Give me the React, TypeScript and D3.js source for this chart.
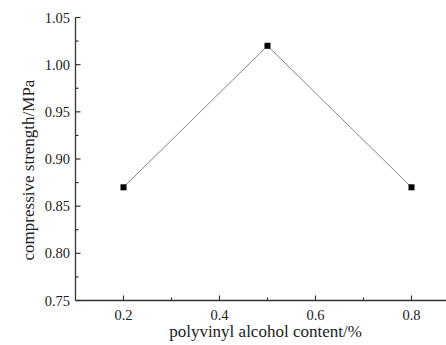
import React from "react";
import * as d3 from "d3";

const contents = [0.2, 0.5, 0.8];
const strengths = [0.87, 1.02, 0.87];
const xMajorTicks = [0.2, 0.4, 0.6, 0.8];
const xMinorTicks = [0.3, 0.5, 0.7];
const yMajorTicks = [0.75, 0.8, 0.85, 0.9, 0.95, 1.0, 1.05];
const yMinorTicks = [0.775, 0.825, 0.875, 0.925, 0.975, 1.025];

const W = 446;
const H = 345;
const FONT = "'Liberation Serif', 'Times New Roman', serif";

export default function App() {
  const x = d3.scaleLinear().domain([0.1, 0.9]).range([75.5, 459.5]);
  const y = d3.scaleLinear().domain([0.75, 1.05]).range([300.5, 17.5]);
  const line = d3
    .line<number>()
    .x((_, i) => x(contents[i]))
    .y((d) => y(d));
  const axisColor = "#333";

  return (
    <svg
      width={W}
      height={H}
      style={{ position: "absolute", left: 0, top: 0, background: "#fff" }}
    >
      {/* axes */}
      <line x1={x(0.1)} x2={x(0.9)} y1={y(0.75)} y2={y(0.75)} stroke={axisColor} strokeWidth={1.3} />
      <line x1={x(0.1)} x2={x(0.1)} y1={y(0.75)} y2={y(1.05)} stroke={axisColor} strokeWidth={1.3} />

      {xMajorTicks.map((t) => (
        <g key={"xm" + t}>
          <line x1={x(t)} x2={x(t)} y1={y(0.75)} y2={y(0.75) - 5} stroke={axisColor} strokeWidth={1.2} />
          <text x={x(t)} y={320} textAnchor="middle" fontFamily={FONT} fontSize={14.5} fill="#222">
            {t.toFixed(1)}
          </text>
        </g>
      ))}
      {xMinorTicks.map((t) => (
        <line key={"xn" + t} x1={x(t)} x2={x(t)} y1={y(0.75)} y2={y(0.75) - 3} stroke={axisColor} strokeWidth={1.2} />
      ))}
      {yMajorTicks.map((t) => (
        <g key={"ym" + t}>
          <line x1={x(0.1)} x2={x(0.1) + 5} y1={y(t)} y2={y(t)} stroke={axisColor} strokeWidth={1.2} />
          <text x={70} y={y(t) + 5} textAnchor="end" fontFamily={FONT} fontSize={14.5} fill="#222">
            {t.toFixed(2)}
          </text>
        </g>
      ))}
      {yMinorTicks.map((t) => (
        <line key={"yn" + t} x1={x(0.1)} x2={x(0.1) + 3} y1={y(t)} y2={y(t)} stroke={axisColor} strokeWidth={1.2} />
      ))}

      {/* axis titles */}
      <text x={265.5} y={337} textAnchor="middle" fontFamily={FONT} fontSize={17} fill="#222">
        polyvinyl alcohol content/%
      </text>
      <text
        transform="translate(33.5, 170) rotate(-90)"
        textAnchor="middle"
        fontFamily={FONT}
        fontSize={17}
        fill="#222"
      >
        compressive strength/MPa
      </text>

      {/* series */}
      <path d={line(strengths) ?? ""} fill="none" stroke="#777" strokeWidth={0.9} />
      {strengths.map((v, i) => (
        <rect key={i} x={x(contents[i]) - 3} y={y(v) - 3} width={6} height={6} fill="#000" />
      ))}
    </svg>
  );
}
